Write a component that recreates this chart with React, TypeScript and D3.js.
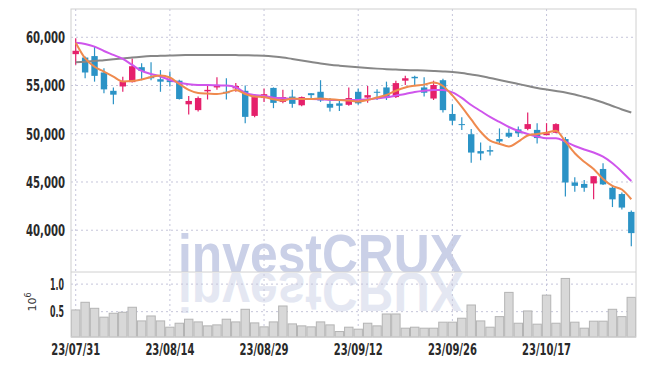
import React from 'react';
import * as d3 from 'd3';

const dates = [
  '23/07/31','23/08/01','23/08/02','23/08/03','23/08/04','23/08/07','23/08/08','23/08/09','23/08/10','23/08/11',
  '23/08/14','23/08/16','23/08/17','23/08/18','23/08/21','23/08/22','23/08/23','23/08/24','23/08/25','23/08/28',
  '23/08/29','23/08/30','23/08/31','23/09/01','23/09/04','23/09/05','23/09/06','23/09/07','23/09/08','23/09/11',
  '23/09/12','23/09/13','23/09/14','23/09/15','23/09/18','23/09/19','23/09/20','23/09/21','23/09/22','23/09/25',
  '23/09/26','23/09/27','23/10/04','23/10/05','23/10/06','23/10/10','23/10/11','23/10/12','23/10/13','23/10/16',
  '23/10/17','23/10/18','23/10/19','23/10/20','23/10/23','23/10/24','23/10/25','23/10/26','23/10/27','23/10/30',
];

const openP = [
  58250,57900,58050,56350,54450,54900,55350,56900,55900,55650,
  55550,55500,53050,52450,54400,54800,54350,54700,54450,51850,
  53700,54750,53300,53850,52950,54200,54350,53100,53150,53000,
  54350,53750,54350,54800,53800,55500,55900,54800,53650,55550,
  52050,51000,49950,48200,48300,49450,50100,50450,50500,50400,
  49850,50100,49450,44950,44800,44850,46350,44400,43750,41900,
];
const highP = [
  59900,58000,59000,56800,54800,55900,57800,57300,57400,56600,
  56450,55600,53900,53850,55150,55850,55750,55250,55000,53850,
  54700,54800,54550,54550,53850,54200,55550,53700,53550,54800,
  54700,54950,54600,55400,55500,56000,56000,55850,55500,55700,
  53050,51700,50500,49100,48750,50550,50550,50750,52200,51100,
  51100,51100,49650,45500,45200,45600,46950,44650,43900,42050,
];
const lowP = [
  57150,55750,55400,54200,53050,54350,55300,55550,55550,54350,
  54900,53550,52000,52300,53550,54550,53550,54350,51100,51700,
  53300,52650,53150,52700,52850,53700,53300,52300,52350,52900,
  53000,53200,53500,53500,53700,55050,54950,53850,53500,52200,
  50900,50400,47000,47250,47750,48850,49550,49650,50350,49000,
  49850,50050,43500,44000,44000,43200,44700,42400,42150,38350,
];
const closeP = [
  58600,56350,56000,54600,54050,55400,57000,56500,55750,55400,
  55350,53600,53400,53700,54550,55050,54200,54950,51750,53800,
  54100,53200,53800,53100,53800,54000,53450,52700,52900,53700,
  53150,54000,54250,53800,55250,55750,55750,54250,55050,52450,
  51350,50900,48050,47950,48150,49200,49700,50050,51000,49550,
  50050,51000,44950,44600,44400,45600,44750,43200,42350,39700,
];
const ma5 = [
  59440,57820,56950,56430,55920,55420,55470,55630,55880,56040,
  55830,55160,54540,54230,54170,54120,54260,54540,54120,53860,
  53810,53570,53450,53660,53600,53600,53660,53570,53500,53450,
  53350,53500,53760,54020,54460,54800,54980,55090,55310,54950,
  53970,52780,51480,50210,49280,48970,48680,49180,49820,49980,
  50100,50320,49180,47980,47100,46350,45310,44590,44220,43210,
];
const ma10 = [
  59440,59310,59030,58580,58170,57750,57130,56510,56200,55940,
  55570,55290,55130,55060,55060,55020,55000,54820,54230,54020,
  53920,53740,53680,53600,53600,53600,53570,53500,53500,53500,
  53500,53570,53680,53780,53950,54120,54330,54460,54540,54540,
  54280,53710,52980,52360,51740,51220,50700,50290,49980,49720,
  49530,49530,49180,48730,48370,48060,47620,46940,46070,45100,
];
const ma60 = [
  57410,57470,57540,57630,57710,57800,57910,57990,58050,58080,
  58110,58140,58160,58170,58170,58170,58160,58150,58130,58110,
  58080,58010,57910,57750,57600,57440,57280,57160,57060,56970,
  56890,56820,56750,56690,56650,56610,56580,56550,56510,56460,
  56400,56300,56140,55990,55780,55570,55370,55160,54950,54740,
  54590,54430,54280,54070,53810,53550,53240,52880,52520,52200,
];
const volume = [
  0.531,0.67,0.561,0.40,0.471,0.489,0.58,0.332,0.422,0.332,
  0.218,0.29,0.363,0.314,0.242,0.26,0.363,0.314,0.543,0.296,
  0.224,0.314,0.603,0.278,0.242,0.224,0.314,0.26,0.139,0.218,
  0.182,0.29,0.242,0.458,0.458,0.2,0.218,0.2,0.2,0.309,
  0.309,0.381,0.621,0.332,0.218,0.41,0.85,0.29,0.513,0.273,
  0.80,0.29,1.103,0.309,0.2,0.327,0.327,0.543,0.41,0.76,
];
const priceTicks = [40000, 45000, 50000, 55000, 60000];
const volTicks = [0.5, 1.0];
const volTickLabels = ['0.5', '1.0'];
const labelEvery = 10;

const UP = '#e5206b';
const DOWN = '#2b93c6';
const FONT = "'DejaVu Sans Condensed', 'DejaVu Sans', sans-serif";

export default function App() {
  const W = 645, H = 366;
  const L = 71, R = 636, T = 9, MID = 272, B = 337;
  const x = d3.scaleBand<string>().domain(dates).range([L, R]).padding(0);
  const bw = x.bandwidth();
  const cx = (i: number) => (x(dates[i]) as number) + bw / 2;
  const y = d3.scaleLinear().domain([35670, 62930]).range([MID, T]);
  const yv = d3.scaleLinear().domain([0.04, 1.22]).range([B, MID]);
  const tickIdx = dates.map((_, i) => i).filter((i) => i % labelEvery === 0);
  const mkLine = (arr: number[]) =>
    d3.line<number>().x((_, i) => cx(i)).y((d) => y(d)).curve(d3.curveMonotoneX)(arr) || '';
  const grid = '#c5c5da';
  const bodyW = 6.4;
  const fs = 16;

  return (
    <svg width={W} height={H} style={{ position: 'absolute', left: 0, top: 0, background: '#fff' }}>
      <defs>
        <clipPath id="volClip"><rect x={L} y={MID + 1} width={R - L} height={B - MID - 1} /></clipPath>
        <clipPath id="priceClip"><rect x={L} y={T} width={R - L} height={MID - T} /></clipPath>
      </defs>
      {/* watermark */}
      <g clipPath="url(#priceClip)">
        <text x={178} y={273} fontFamily="'Liberation Sans', Arial, sans-serif" fontWeight="bold" fontSize={56}
          textLength={285} lengthAdjust="spacingAndGlyphs" fill="#cad0e7">investCRUX</text>
      </g>
      <g clipPath="url(#volClip)">
        <g transform="translate(0,546) scale(1,-1)">
          <text x={178} y={273} fontFamily="'Liberation Sans', Arial, sans-serif" fontWeight="bold" fontSize={56}
            textLength={285} lengthAdjust="spacingAndGlyphs" fill="#e4e7f2">investCRUX</text>
        </g>
      </g>
      {/* grid */}
      {priceTicks.map((t) => (
        <line key={'pg' + t} x1={L} x2={R} y1={y(t)} y2={y(t)} stroke={grid} strokeDasharray="2,3" />
      ))}
      {volTicks.map((t) => (
        <line key={'vg' + t} x1={L} x2={R} y1={yv(t)} y2={yv(t)} stroke={grid} strokeDasharray="2,3" />
      ))}
      {tickIdx.map((i) => (
        <line key={'xg' + i} x1={cx(i)} x2={cx(i)} y1={T} y2={B} stroke={grid} strokeDasharray="2,3" />
      ))}
      {/* volume bars */}
      {volume.map((v, i) => (
        <rect key={'v' + i} x={(x(dates[i]) as number) + 0.5} y={yv(v)} width={bw - 1} height={B - yv(v)}
          fill="#d8d8d8" stroke="#b4b4b4" strokeWidth={1} />
      ))}
      {/* candles */}
      <g clipPath="url(#priceClip)">
        {dates.map((d, i) => {
          const o = openP[i], c = closeP[i];
          const col = c >= o ? UP : DOWN;
          const top = y(Math.max(o, c));
          const h = Math.max(1, Math.abs(y(o) - y(c)));
          return (
            <g key={'c' + i}>
              <line x1={cx(i)} x2={cx(i)} y1={y(highP[i])} y2={y(lowP[i])} stroke={col} strokeWidth={1.2} />
              <rect x={cx(i) - bodyW / 2} y={top} width={bodyW} height={h} fill={col} />
            </g>
          );
        })}
        <path d={mkLine(ma60)} fill="none" stroke="#878787" strokeWidth={2} />
        <path d={mkLine(ma10)} fill="none" stroke="#cf55ec" strokeWidth={2} />
        <path d={mkLine(ma5)} fill="none" stroke="#ef8a4e" strokeWidth={2} />
      </g>
      {/* frame */}
      <rect x={L} y={T} width={R - L} height={B - T} fill="none" stroke="#d0d0d0" />
      <line x1={L} x2={R} y1={MID} y2={MID} stroke="#d0d0d0" />
      {/* axes labels */}
      {priceTicks.map((t) => (
        <text key={'pl' + t} x={65} y={y(t)} dy="0.36em" textAnchor="end" fontFamily={FONT} fontSize={fs}
          fontWeight="bold" fill="#2a2a2a" textLength={39} lengthAdjust="spacingAndGlyphs">{d3.format(',')(t)}</text>
      ))}
      {volTicks.map((t, k) => (
        <text key={'vl' + t} x={64} y={yv(t)} dy="0.36em" textAnchor="end" fontFamily={FONT} fontSize={fs}
          fontWeight="bold" fill="#2a2a2a" textLength={14} lengthAdjust="spacingAndGlyphs">{volTickLabels[k]}</text>
      ))}
      {tickIdx.map((i) => (
        <text key={'xl' + i} x={cx(i)} y={354.5} textAnchor="middle" fontFamily={FONT} fontSize={fs}
          fontWeight="bold" fill="#2a2a2a" textLength={49} lengthAdjust="spacingAndGlyphs">{dates[i]}</text>
      ))}
      <text transform="translate(36,302) rotate(-90)" textAnchor="middle" fontFamily="'DejaVu Sans', sans-serif"
        fontSize={11} fill="#333">10<tspan dy={-5} fontSize={8}>6</tspan></text>
    </svg>
  );
}
